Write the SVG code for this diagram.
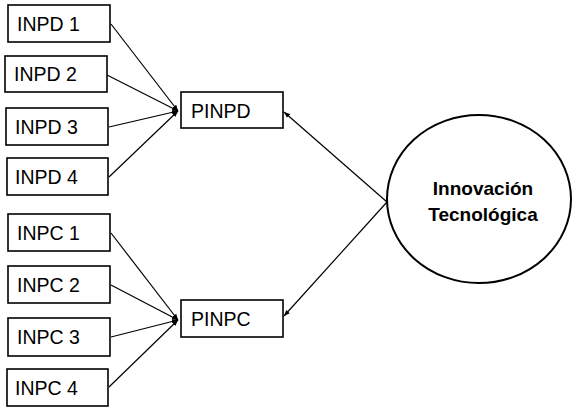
<svg xmlns="http://www.w3.org/2000/svg" width="573" height="407" viewBox="0 0 573 407">
<style>
.box{fill:#fff;stroke:#000;stroke-width:1.6}
.lbl{font-family:"Liberation Sans",Arial,sans-serif;font-size:19.5px;fill:#000}
.ell{fill:#fff;stroke:#000;stroke-width:2}
.big{font-family:"Liberation Sans",Arial,sans-serif;font-size:19px;font-weight:bold;fill:#000}
.ln{stroke:#000;stroke-width:1.2;fill:none}
</style>
<defs>
<marker id="ah" viewBox="0 0 10 10" refX="10" refY="5" markerWidth="6" markerHeight="6" orient="auto" markerUnits="userSpaceOnUse">
<path d="M0,1 L10,5 L0,9 Z" fill="#000"/>
</marker>
</defs>
<g id="connectors">
<line class="ln" x1="111" y1="24" x2="178" y2="111" marker-end="url(#ah)"/>
<line class="ln" x1="107" y1="75" x2="178" y2="111" marker-end="url(#ah)"/>
<line class="ln" x1="109" y1="127" x2="178" y2="111" marker-end="url(#ah)"/>
<line class="ln" x1="109" y1="177" x2="178" y2="111" marker-end="url(#ah)"/>
<line class="ln" x1="111" y1="233" x2="178" y2="320" marker-end="url(#ah)"/>
<line class="ln" x1="111" y1="285" x2="178" y2="320" marker-end="url(#ah)"/>
<line class="ln" x1="111" y1="337" x2="178" y2="320" marker-end="url(#ah)"/>
<line class="ln" x1="109" y1="387" x2="178" y2="320" marker-end="url(#ah)"/>
<line class="ln" x1="387" y1="202" x2="284" y2="112" marker-end="url(#ah)"/>
<line class="ln" x1="387" y1="202" x2="284" y2="316" marker-end="url(#ah)"/>
</g>
<g id="INPD1"><rect class="box" x="8" y="5" width="102" height="37"/><text class="lbl" x="17" y="31">INPD 1</text></g>
<g id="INPD2"><rect class="box" x="5" y="56" width="102" height="36"/><text class="lbl" x="14" y="81">INPD 2</text></g>
<g id="INPD3"><rect class="box" x="6" y="108" width="102" height="37"/><text class="lbl" x="15" y="134">INPD 3</text></g>
<g id="INPD4"><rect class="box" x="7" y="158" width="101" height="37"/><text class="lbl" x="15" y="184">INPD 4</text></g>
<g id="INPC1"><rect class="box" x="8" y="214" width="102" height="37"/><text class="lbl" x="17" y="240">INPC 1</text></g>
<g id="INPC2"><rect class="box" x="8" y="266" width="102" height="37"/><text class="lbl" x="17" y="292">INPC 2</text></g>
<g id="INPC3"><rect class="box" x="8" y="318" width="102" height="38"/><text class="lbl" x="17" y="344">INPC 3</text></g>
<g id="INPC4"><rect class="box" x="7" y="369" width="101" height="37"/><text class="lbl" x="15" y="395">INPC 4</text></g>
<g id="PINPD"><rect class="box" x="181" y="92" width="102" height="36"/><text class="lbl" x="191" y="118">PINPD</text></g>
<g id="PINPC"><rect class="box" x="181" y="300" width="102" height="37"/><text class="lbl" x="191" y="326">PINPC</text></g>
<g id="InnovacionTecnologica"><ellipse class="ell" cx="479" cy="199" rx="92" ry="84"/>
<text class="big" x="483" y="195" text-anchor="middle">Innovación</text>
<text class="big" x="483" y="221" text-anchor="middle">Tecnológica</text></g>
</svg>
